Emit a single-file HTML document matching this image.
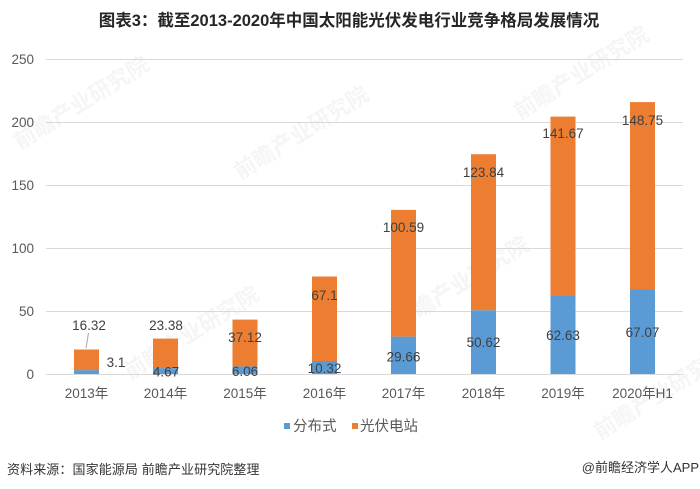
<!DOCTYPE html>
<html>
<head>
<meta charset="utf-8">
<style>
  html,body{margin:0;padding:0;background:#fff;}
  body{width:700px;height:489px;overflow:hidden;}
  svg{display:block;}
  text{font-family:"Liberation Sans","Noto Sans CJK SC",sans-serif;}
</style>
</head>
<body>
<svg width="700" height="489" viewBox="0 0 700 489" xmlns="http://www.w3.org/2000/svg">
  <rect width="700" height="489" fill="#ffffff"/>

  <!-- watermarks -->
  <g fill="#000" opacity="0.04" font-size="22" font-weight="bold">
    <text x="20" y="150" transform="rotate(-32 20 150)">前瞻产业研究院</text>
    <text x="240" y="180" transform="rotate(-32 240 180)">前瞻产业研究院</text>
    <text x="520" y="120" transform="rotate(-32 520 120)">前瞻产业研究院</text>
    <text x="130" y="380" transform="rotate(-32 130 380)">前瞻产业研究院</text>
    <text x="400" y="330" transform="rotate(-32 400 330)">前瞻产业研究院</text>
    <text x="600" y="440" transform="rotate(-32 600 440)">前瞻产业研究院</text>
  </g>

  <!-- title -->
  <text x="349" y="26" text-anchor="middle" font-size="16.5" font-weight="bold" fill="#262626">图表3：截至2013-2020年中国太阳能光伏发电行业竞争格局发展情况</text>

  <!-- gridlines -->
  <g stroke="#d9d9d9" stroke-width="1">
    <line x1="46" y1="59.5" x2="683" y2="59.5"/>
    <line x1="46" y1="122.5" x2="683" y2="122.5"/>
    <line x1="46" y1="185.5" x2="683" y2="185.5"/>
    <line x1="46" y1="248.5" x2="683" y2="248.5"/>
    <line x1="46" y1="311.5" x2="683" y2="311.5"/>
    <line x1="46" y1="374.5" x2="683" y2="374.5"/>
  </g>

  <!-- y axis labels -->
  <g font-size="13.5" fill="#595959" text-anchor="end">
    <text x="34" y="64">250</text>
    <text x="34" y="127">200</text>
    <text x="34" y="190">150</text>
    <text x="34" y="253">100</text>
    <text x="34" y="316">50</text>
    <text x="34" y="379">0</text>
  </g>

  <!-- bars -->
  <g>
    <rect x="74" y="370.1" width="25" height="3.9" fill="#5B9BD5"/>
    <rect x="74" y="349.5" width="25" height="20.6" fill="#ED7D31"/>
    <rect x="153" y="368.1" width="25" height="5.9" fill="#5B9BD5"/>
    <rect x="153" y="338.6" width="25" height="29.5" fill="#ED7D31"/>
    <rect x="232.5" y="366.4" width="25" height="7.6" fill="#5B9BD5"/>
    <rect x="232.5" y="319.6" width="25" height="46.8" fill="#ED7D31"/>
    <rect x="312" y="361.0" width="25" height="13.0" fill="#5B9BD5"/>
    <rect x="312" y="276.5" width="25" height="84.5" fill="#ED7D31"/>
    <rect x="391" y="336.6" width="25" height="37.4" fill="#5B9BD5"/>
    <rect x="391" y="209.9" width="25" height="126.7" fill="#ED7D31"/>
    <rect x="471" y="310.2" width="25" height="63.8" fill="#5B9BD5"/>
    <rect x="471" y="154.2" width="25" height="156.0" fill="#ED7D31"/>
    <rect x="550.5" y="295.1" width="25" height="78.9" fill="#5B9BD5"/>
    <rect x="550.5" y="116.6" width="25" height="178.5" fill="#ED7D31"/>
    <rect x="630" y="289.5" width="25" height="84.5" fill="#5B9BD5"/>
    <rect x="630" y="102.1" width="25" height="187.4" fill="#ED7D31"/>
  </g>

  <!-- leader line 2013 -->
  <line x1="86" y1="348" x2="88.5" y2="333" stroke="#a6a6a6" stroke-width="1"/>

  <!-- data labels -->
  <g font-size="13.5" fill="#404040" text-anchor="middle">
    <text x="89" y="329.8">16.32</text>
    <text x="116" y="366.8">3.1</text>
    <text x="166" y="329.8">23.38</text>
    <text x="166" y="376.3">4.67</text>
    <text x="245" y="341.8">37.12</text>
    <text x="245" y="375.8">6.06</text>
    <text x="324.5" y="299.8">67.1</text>
    <text x="324.5" y="372.8">10.32</text>
    <text x="403.5" y="231.8">100.59</text>
    <text x="403.5" y="361.5">29.66</text>
    <text x="483.5" y="176.8">123.84</text>
    <text x="483.5" y="346.8">50.62</text>
    <text x="563" y="137.8">141.67</text>
    <text x="563" y="339.8">62.63</text>
    <text x="642.5" y="124.8">148.75</text>
    <text x="642.5" y="336.8">67.07</text>
  </g>

  <!-- x axis labels -->
  <g font-size="13.5" fill="#595959" text-anchor="middle">
    <text x="86.5" y="397.8">2013年</text>
    <text x="165.5" y="397.8">2014年</text>
    <text x="245" y="397.8">2015年</text>
    <text x="324.5" y="397.8">2016年</text>
    <text x="403.5" y="397.8">2017年</text>
    <text x="483.5" y="397.8">2018年</text>
    <text x="563" y="397.8">2019年</text>
    <text x="642.5" y="397.8">2020年H1</text>
  </g>

  <!-- legend -->
  <rect x="284" y="423" width="6" height="6" fill="#5B9BD5"/>
  <text x="293" y="431" font-size="14.5" fill="#595959">分布式</text>
  <rect x="352" y="423" width="6" height="6" fill="#ED7D31"/>
  <text x="360" y="431" font-size="14.5" fill="#595959">光伏电站</text>

  <!-- footer -->
  <text x="7" y="474" font-size="13" fill="#333333" letter-spacing="0.1">资料来源：国家能源局 前瞻产业研究院整理</text>
  <text x="699" y="472" font-size="13" fill="#333333" text-anchor="end">@前瞻经济学人APP</text>
</svg>
</body>
</html>
